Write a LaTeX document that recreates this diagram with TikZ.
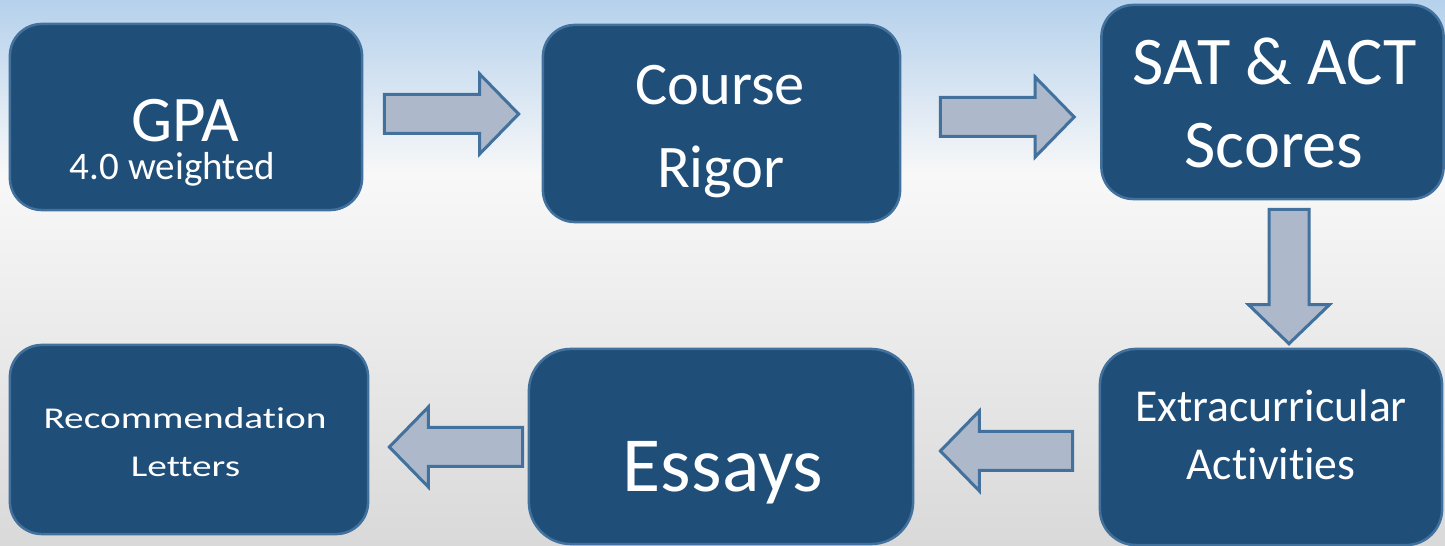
\documentclass[tikz,border=0pt]{standalone}
\usepackage{fontspec}
\setmainfont{Carlito}[Ligatures=NoCommon]
\usetikzlibrary{calc}
\definecolor{boxfill}{RGB}{31,78,121}
\definecolor{boxline}{RGB}{65,113,156}
\definecolor{arrfill}{RGB}{173,185,202}
\definecolor{bgtop}{RGB}{181,209,236}
\definecolor{bgmid}{RGB}{248,248,248}
\definecolor{bgbot}{RGB}{217,217,217}
\tikzset{
  box/.style={draw=boxline, line width=0.025cm, fill=boxfill, rounded corners=0.32cm, inner sep=0pt},
  lbl/.style={text=white, anchor=base, inner sep=0pt},
  blockarrow/.style={draw=boxline, fill=arrfill, line width=0.03cm, line join=miter},
}
% horizontal block arrow: #1 start, #2 tip, #3 = 1 (right) or -1 (left)
\newcommand\harr[3]{%
  \draw[blockarrow] ($(#1)+(0,-19.5)$) -- ($(#2)+(-39*#3,-19.5)$) -- ($(#2)+(-39*#3,-40)$) -- (#2)
    -- ($(#2)+(-39*#3,40)$) -- ($(#2)+(-39*#3,19.5)$) -- ($(#1)+(0,19.5)$) -- cycle;}
% downward block arrow: #1 start (top), #2 tip
\newcommand\varr[2]{%
  \draw[blockarrow] ($(#1)+(-20,0)$) -- ($(#2)+(-20,-39)$) -- ($(#2)+(-40.5,-39)$) -- (#2)
    -- ($(#2)+(40.5,-39)$) -- ($(#2)+(20,-39)$) -- ($(#1)+(20,0)$) -- cycle;}
\begin{document}
\begin{tikzpicture}[x=0.01cm, y=-0.01cm]
\useasboundingbox (0,0) rectangle (1445,546);
\shade[top color=bgtop, bottom color=bgmid] (0,0) rectangle (1445,175);
\shade[top color=bgmid, bottom color=bgbot] (0,174.5) rectangle (1445,546);

% boxes
\node[box, minimum width=3.52cm, minimum height=1.86cm] (gpa) at (186,117) {};
\node[box, minimum width=3.57cm, minimum height=1.97cm] (rigor) at (721.5,123.5) {};
\node[box, minimum width=3.42cm, minimum height=1.94cm] (sat) at (1272.5,102) {};
\node[box, minimum width=3.42cm, minimum height=1.96cm, rounded corners=0.36cm] (extra) at (1271,447) {};
\node[box, minimum width=3.84cm, minimum height=1.95cm, rounded corners=0.42cm] (essays) at (721,446.5) {};
\node[box, minimum width=3.58cm, minimum height=1.89cm] (rec) at (189,439.5) {};

% texts
\node[lbl, font=\fontsize{18.5}{22}\selectfont] (tgpa) at (185,142) {GPA};
\node[lbl, font=\fontsize{11.1}{13}\selectfont] (tw) at (172.5,180) {4.0 weighted};
\node[lbl, font=\fontsize{17.2}{20}\selectfont] (tc) at (720,105) {Course};
\node[lbl, font=\fontsize{17.2}{20}\selectfont] (tr) at (721,188) {Rigor};
\node[lbl, font=\fontsize{19.4}{22}\selectfont] (ts1) at (1274.5,85) {SAT \& ACT};
\node[lbl, font=\fontsize{19.4}{22}\selectfont] (ts2) at (1274,168) {Scores};
\node[lbl, font=\fontsize{13}{15}\selectfont] (te1) at (1271,422) {Extracurricular};
\node[lbl, font=\fontsize{13}{15}\selectfont] (te2) at (1271,480) {Activities};
\node[lbl, font=\fontsize{22.2}{26}\selectfont] (tes) at (723,492) {Essays};
\node[lbl, font=\fontsize{8.6}{10}\selectfont] (tr1) at (185,429) {\scalebox{1.3}[1]{Recommendation}};
\node[lbl, font=\fontsize{8.6}{10}\selectfont] (tr2) at (185.5,477) {\scalebox{1.3}[1]{Letters}};

% connector end points
\coordinate (a1s) at ($(gpa.east)+(21,-3)$);
\coordinate (a1e) at ($(rigor.west)+(-23,-9.5)$);
\coordinate (a2s) at ($(rigor.east)+(39,-6.5)$);
\coordinate (a2e) at ($(sat.west)+(-26,15)$);
\coordinate (a3s) at ($(sat.south)+(16.5,9)$);
\coordinate (a3e) at ($(extra.north)+(18,-4)$);
\coordinate (a4s) at ($(extra.west)+(-26,4)$);
\coordinate (a4e) at ($(essays.east)+(26,4.5)$);
\coordinate (a5s) at ($(essays.west)+(-5,0.5)$);
\coordinate (a5e) at ($(rec.east)+(20,7.5)$);

\harr{a1s}{a1e}{1}
\harr{a2s}{a2e}{1}
\varr{a3s}{a3e}
\harr{a4s}{a4e}{-1}
\harr{a5s}{a5e}{-1}
\end{tikzpicture}
\end{document}
